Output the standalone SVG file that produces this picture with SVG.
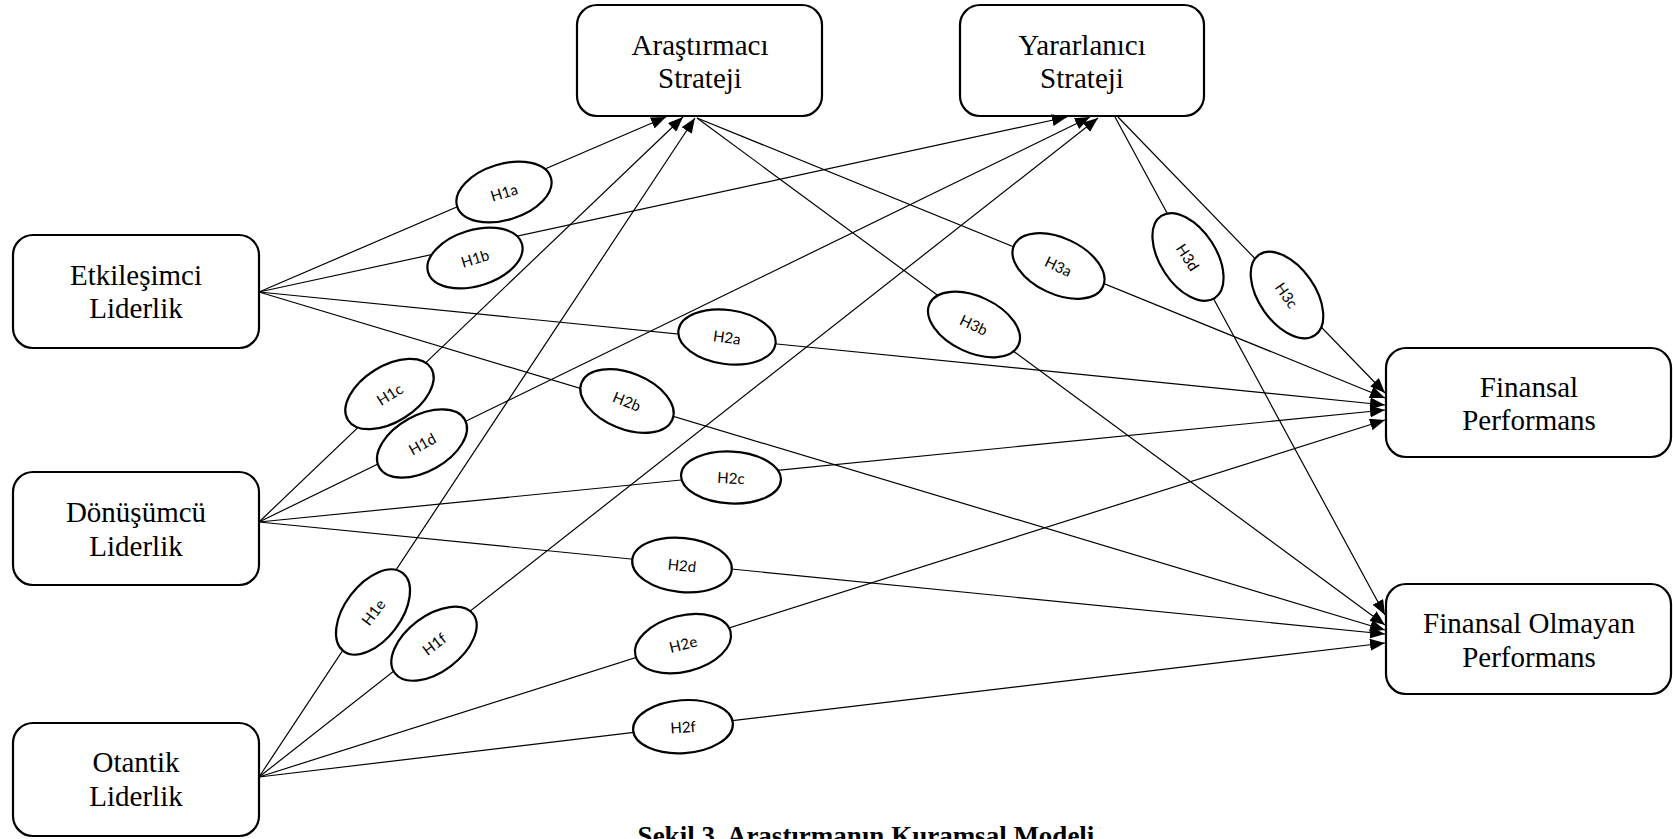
<svg xmlns="http://www.w3.org/2000/svg" width="1673" height="839" viewBox="0 0 1673 839">
  <style>
    .box { fill: #fff; stroke: #000; stroke-width: 2.2; }
    .box-text { font-family: "Liberation Serif", "Times New Roman", serif; font-size: 29px; fill: #000; text-anchor: middle; }
    .link { stroke: #000; stroke-width: 1.2; fill: none; marker-end: url(#arrow); }
    .hyp ellipse { fill: #fff; stroke: #000; stroke-width: 2.2; }
    .hyp text { font-family: Lato, "Open Sans", sans-serif; font-size: 15px; fill: #000; text-anchor: middle; dominant-baseline: central; }
    .caption { font-family: "Liberation Serif", "Times New Roman", serif; font-size: 27px; font-weight: bold; fill: #000; text-anchor: middle; }
  </style>
  <defs>
    <marker id="arrow" markerUnits="userSpaceOnUse" markerWidth="15" markerHeight="12" refX="15" refY="6" orient="auto">
      <path d="M0,0 L15,6 L0,12 z" fill="#000"/>
    </marker>
  </defs>
  <rect width="1673" height="839" fill="#fff"/>

  <!-- construct boxes -->
  <g id="arastirmaci-strateji">
    <rect class="box" x="577" y="5" width="245" height="111" rx="20"/>
    <text class="box-text" x="700" y="55">Araştırmacı</text>
    <text class="box-text" x="700" y="88">Strateji</text>
  </g>
  <g id="yararlanici-strateji">
    <rect class="box" x="960" y="5" width="244" height="111" rx="20"/>
    <text class="box-text" x="1082" y="55">Yararlanıcı</text>
    <text class="box-text" x="1082" y="88">Strateji</text>
  </g>
  <g id="etkilesimci-liderlik">
    <rect class="box" x="13" y="235" width="246" height="113" rx="20"/>
    <text class="box-text" x="136" y="285">Etkileşimci</text>
    <text class="box-text" x="136" y="318">Liderlik</text>
  </g>
  <g id="donusumcu-liderlik">
    <rect class="box" x="13" y="472" width="246" height="113" rx="20"/>
    <text class="box-text" x="136" y="522">Dönüşümcü</text>
    <text class="box-text" x="136" y="556">Liderlik</text>
  </g>
  <g id="otantik-liderlik">
    <rect class="box" x="13" y="723" width="246" height="113" rx="20"/>
    <text class="box-text" x="136" y="772">Otantik</text>
    <text class="box-text" x="136" y="806">Liderlik</text>
  </g>
  <g id="finansal-performans">
    <rect class="box" x="1386" y="348" width="285" height="109" rx="20"/>
    <text class="box-text" x="1529" y="397">Finansal</text>
    <text class="box-text" x="1529" y="430">Performans</text>
  </g>
  <g id="finansal-olmayan-performans">
    <rect class="box" x="1386" y="584" width="285" height="110" rx="20"/>
    <text class="box-text" x="1529" y="633">Finansal Olmayan</text>
    <text class="box-text" x="1529" y="667">Performans</text>
  </g>

  <!-- hypothesis paths -->
  <g id="connectors">
    <path class="link" d="M259,292 L666,117"/>
    <path class="link" d="M259,292 L1067,117"/>
    <path class="link" d="M259,292 L1385,405"/>
    <path class="link" d="M259,292 L1385,630"/>
    <path class="link" d="M259,522 L683,117"/>
    <path class="link" d="M259,522 L1090,117"/>
    <path class="link" d="M259,522 L1385,410"/>
    <path class="link" d="M259,522 L1385,634"/>
    <path class="link" d="M259,777 L695,118"/>
    <path class="link" d="M259,777 L1098,118"/>
    <path class="link" d="M259,777 L1385,420"/>
    <path class="link" d="M259,777 L1385,643"/>
    <path class="link" d="M697,118 L1385,398"/>
    <path class="link" d="M697,118 L1385,625"/>
    <path class="link" d="M1115,117 L1385,615"/>
    <path class="link" d="M1118,117 L1385,393"/>
  </g>

  <!-- hypothesis labels -->
  <g id="h1a" class="hyp" transform="translate(504,192) rotate(-17)"><ellipse rx="49" ry="28"/><text>H1a</text></g>
  <g id="h1b" class="hyp" transform="translate(475,258) rotate(-17)"><ellipse rx="49" ry="28"/><text>H1b</text></g>
  <g id="h2a" class="hyp" transform="translate(727,337) rotate(8)"><ellipse rx="49" ry="27"/><text>H2a</text></g>
  <g id="h1c" class="hyp" transform="translate(389.5,394) rotate(-32)"><ellipse rx="49" ry="28"/><text>H1c</text></g>
  <g id="h1d" class="hyp" transform="translate(422,443.5) rotate(-29)"><ellipse rx="49" ry="28"/><text>H1d</text></g>
  <g id="h2b" class="hyp" transform="translate(627,401) rotate(22)"><ellipse rx="49" ry="28"/><text>H2b</text></g>
  <g id="h2c" class="hyp" transform="translate(731,477.5) rotate(3)"><ellipse rx="50" ry="26"/><text>H2c</text></g>
  <g id="h2d" class="hyp" transform="translate(682,565) rotate(6)"><ellipse rx="50" ry="27"/><text>H2d</text></g>
  <g id="h1e" class="hyp" transform="translate(373,612) rotate(-53)"><ellipse rx="49" ry="28"/><text>H1e</text></g>
  <g id="h1f" class="hyp" transform="translate(434,643.7) rotate(-37)"><ellipse rx="49" ry="28"/><text>H1f</text></g>
  <g id="h2e" class="hyp" transform="translate(683,643.7) rotate(-14)"><ellipse rx="49" ry="28"/><text>H2e</text></g>
  <g id="h2f" class="hyp" transform="translate(683,726.7) rotate(-4)"><ellipse rx="50" ry="26.5"/><text>H2f</text></g>
  <g id="h3a" class="hyp" transform="translate(1058.5,266) rotate(25)"><ellipse rx="49" ry="28"/><text>H3a</text></g>
  <g id="h3b" class="hyp" transform="translate(974,324.5) rotate(25)"><ellipse rx="49" ry="28"/><text>H3b</text></g>
  <g id="h3d" class="hyp" transform="translate(1188,257) rotate(57)"><ellipse rx="49" ry="28"/><text>H3d</text></g>
  <g id="h3c" class="hyp" transform="translate(1287,295) rotate(55)"><ellipse rx="49" ry="28"/><text>H3c</text></g>

  <!-- figure caption, running past the bottom edge of the page -->
  <text class="caption" x="866" y="845">Şekil 3. Araştırmanın Kuramsal Modeli</text>
</svg>
